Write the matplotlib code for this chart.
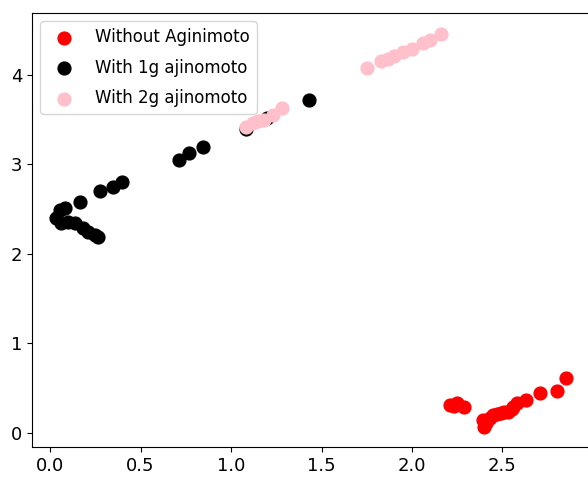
import matplotlib
matplotlib.use("Agg")
import matplotlib.pyplot as plt

# Without Aginimoto (red)
x_none = [2.21, 2.25, 2.29, 2.23, 2.39, 2.40, 2.41, 2.43, 2.45, 2.47, 2.49, 2.51,
          2.53, 2.55, 2.56, 2.58, 2.63, 2.71, 2.80, 2.85]
y_none = [0.31, 0.33, 0.29, 0.30, 0.15, 0.07, 0.11, 0.17, 0.20, 0.21, 0.22, 0.24,
          0.23, 0.27, 0.29, 0.33, 0.37, 0.45, 0.47, 0.61]

# With 1g ajinomoto (black)
x_1g = [0.03, 0.055, 0.08, 0.06, 0.10, 0.14, 0.18, 0.21, 0.25, 0.265, 0.166,
        0.276, 0.35, 0.40, 0.71, 0.77, 0.845, 1.08, 1.20, 1.43]
y_1g = [2.40, 2.49, 2.51, 2.35, 2.36, 2.34, 2.29, 2.25, 2.21, 2.19, 2.58,
        2.70, 2.75, 2.80, 3.05, 3.13, 3.19, 3.40, 3.52, 3.72]

# With 2g ajinomoto (pink)
x_2g = [1.08, 1.12, 1.15, 1.18, 1.23, 1.28, 1.75, 1.83, 1.87, 1.90, 1.95, 2.00,
        2.06, 2.10, 2.16]
y_2g = [3.42, 3.46, 3.48, 3.50, 3.55, 3.63, 4.08, 4.15, 4.18, 4.21, 4.26, 4.29,
        4.35, 4.39, 4.46]

plt.rcParams["font.size"] = 13

fig = plt.figure(figsize=(5.88, 4.79), dpi=100)
ax = fig.add_axes([0.0544, 0.0668, 0.954, 0.906])

ax.scatter(x_none, y_none, color="red", s=85, label="Without Aginimoto")
ax.scatter(x_1g, y_1g, color="black", s=85, label="With 1g ajinomoto")
ax.scatter(x_2g, y_2g, color="pink", s=85, label="With 2g ajinomoto")

ax.set_xlim(-0.1, 3.0)
ax.set_ylim(-0.156, 4.69)
ax.set_xticks([0.0, 0.5, 1.0, 1.5, 2.0, 2.5])
ax.set_yticks([0, 1, 2, 3, 4])
ax.legend(loc="upper left", fontsize=12, labelspacing=0.75, handletextpad=0.9,
          borderaxespad=0.5)

fig.savefig("out.png", dpi=100)
